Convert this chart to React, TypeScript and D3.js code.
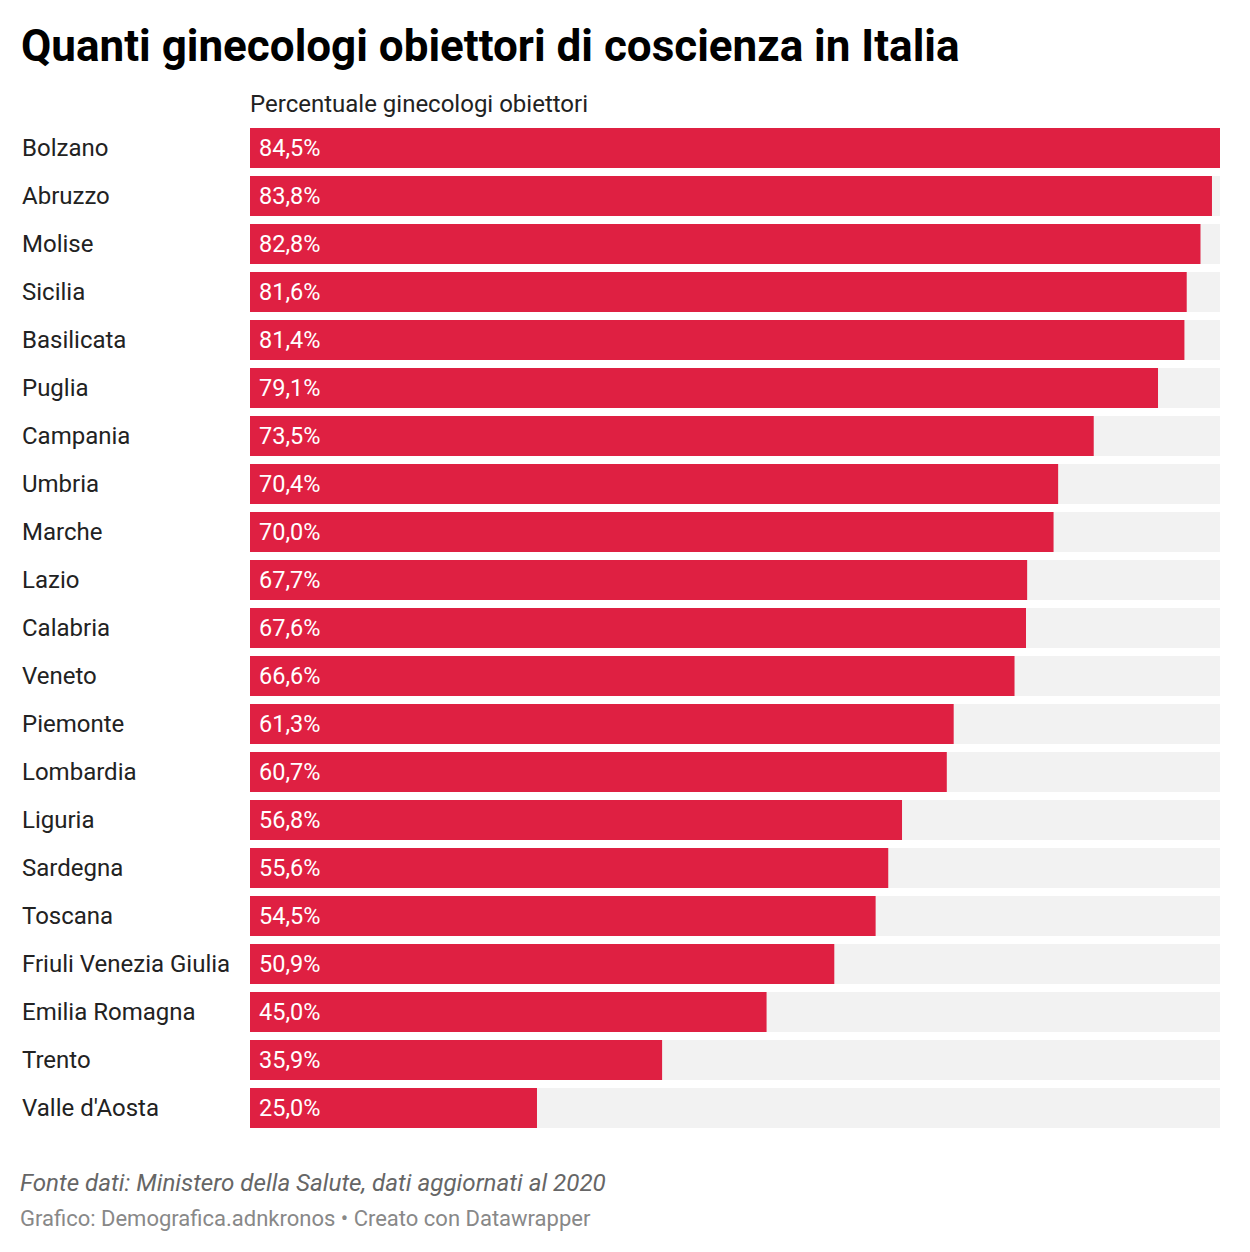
import React from "react";
import * as d3 from "d3";

const regions = ["Bolzano","Abruzzo","Molise","Sicilia","Basilicata","Puglia","Campania","Umbria","Marche","Lazio","Calabria","Veneto","Piemonte","Lombardia","Liguria","Sardegna","Toscana","Friuli Venezia Giulia","Emilia Romagna","Trento","Valle d'Aosta"];
const values = [84.5,83.8,82.8,81.6,81.4,79.1,73.5,70.4,70.0,67.7,67.6,66.6,61.3,60.7,56.8,55.6,54.5,50.9,45.0,35.9,25.0];

const W = 1250, H = 1252;
const FONT = "Roboto, 'Noto Sans', sans-serif";

export default function App() {
  const x = d3.scaleLinear().domain([0, d3.max(values)!]).range([250, 1220]);
  const y = d3.scaleBand().domain(regions).range([128, 128 + 48 * regions.length - 8]).paddingInner(8 / 48).paddingOuter(0);
  const fmt = (v: number) => v.toFixed(1).replace(".", ",") + "%";
  return (
    <svg width={W} height={H} style={{ position: "absolute", left: 0, top: 0, background: "#fff" }} fontFamily={FONT}>
      <text x={21} y={61} fontSize={44} fontWeight={700} fill="#000">Quanti ginecologi obiettori di coscienza in Italia</text>
      <text x={250} y={112} fontSize={24} fill="#222">Percentuale ginecologi obiettori</text>
      {regions.map((r, i) => {
        const yy = y(r)!;
        const h = y.bandwidth();
        return (
          <g key={r}>
            <rect x={250} y={yy} width={970} height={h} fill="#f2f2f2" />
            <rect x={250} y={yy} width={x(values[i]) - 250} height={h} fill="#df2042" />
            <text x={22} y={yy + h / 2} dy="0.35em" fontSize={24} fill="#222">{r}</text>
            <text x={259} y={yy + h / 2} dy="0.35em" fontSize={23.5} fill="#fff">{fmt(values[i])}</text>
          </g>
        );
      })}
      <text x={20} y={1191} fontSize={24.2} fontStyle="italic" fill="#666">Fonte dati: Ministero della Salute, dati aggiornati al 2020</text>
      <text x={20} y={1226} fontSize={22} fill="#888">Grafico: Demografica.adnkronos • Creato con Datawrapper</text>
    </svg>
  );
}
